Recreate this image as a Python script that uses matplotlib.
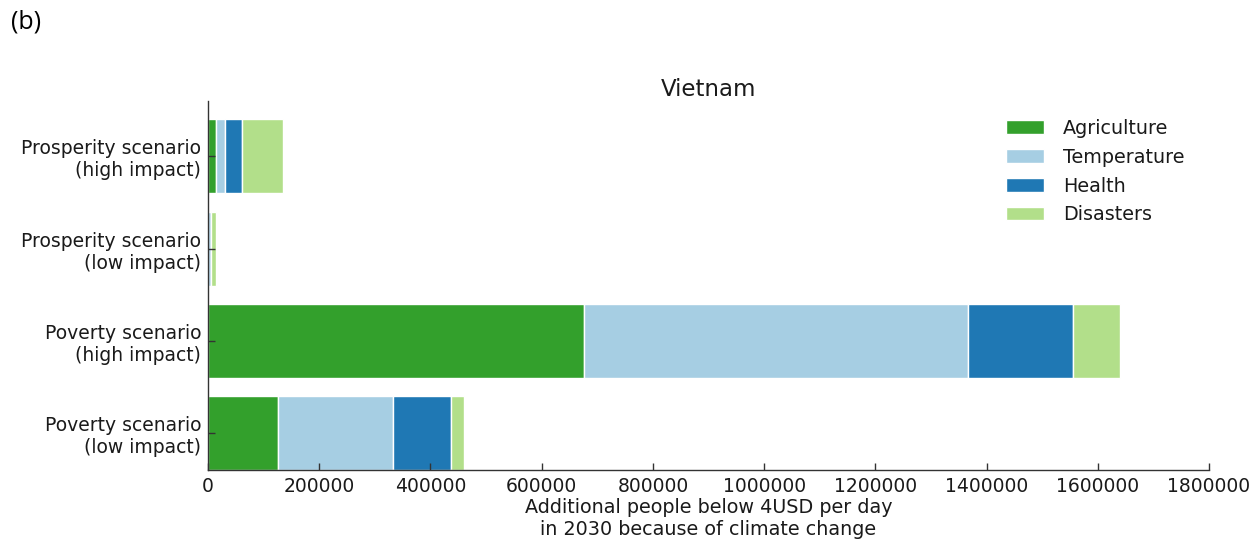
import matplotlib
matplotlib.use("Agg")
import matplotlib.pyplot as plt
import numpy as np

# Scenarios, listed bottom to top
scenarios = [
    "Poverty scenario\n(low impact)",
    "Poverty scenario\n(high impact)",
    "Prosperity scenario\n(low impact)",
    "Prosperity scenario\n(high impact)",
]

# Additional people below 4 USD/day in 2030, by channel
agriculture = [126000, 676000, 500, 15000]
temperature = [207000, 691000, 4000, 15000]
health = [104000, 188000, 500, 31000]
disasters = [23000, 85000, 10000, 74000]

series_names = ["Agriculture", "Temperature", "Health", "Disasters"]
series_colors = ["#33a02c", "#a6cee3", "#1f78b4", "#b2df8a"]

xticks = [0, 200000, 400000, 600000, 800000, 1000000, 1200000, 1400000, 1600000, 1800000]

plt.rcParams["font.family"] = ["DejaVu Sans"]

fig = plt.figure(figsize=(12.6, 5.41), dpi=100)
ax = fig.add_axes([0.1651, 0.1312, 0.7944, 0.6821])

y = np.arange(len(scenarios))
left = np.zeros(len(scenarios))
for name, vals, col in zip(series_names, [agriculture, temperature, health, disasters], series_colors):
    vals = np.array(vals, dtype=float)
    ax.barh(y, vals, left=left, height=0.8, color=col, edgecolor="white",
            linewidth=1.0, label=name)
    left += vals

ax.set_xlim(0, 1800000)
ax.set_ylim(-0.4, 3.6)
ax.set_xticks(xticks)
ax.set_xticklabels([str(v) for v in xticks])
ax.set_yticks(y)
ax.set_yticklabels(scenarios, fontsize=13.5)

for s in ["top", "right"]:
    ax.spines[s].set_visible(False)
for s in ["left", "bottom"]:
    ax.spines[s].set_color("#333333")
    ax.spines[s].set_linewidth(1.0)

ax.tick_params(axis="both", direction="in", length=5, width=1, color="#333333",
               labelsize=13.5, labelcolor="#1a1a1a")
ax.tick_params(axis="y", pad=5)
ax.tick_params(axis="x", pad=5)

ax.set_xlabel("Additional people below 4USD per day\nin 2030 because of climate change",
              fontsize=13.8, color="#1a1a1a", labelpad=1.5, linespacing=1.2)
ax.set_title("Vietnam", fontsize=16.5, color="#1a1a1a", pad=1)

leg = fig.legend(loc="upper left", bbox_to_anchor=(0.792, 0.795), frameon=False,
                 fontsize=13.8, handlelength=2.0, handleheight=0.7,
                 handletextpad=1.0, labelspacing=0.52, borderaxespad=0)
for t in leg.get_texts():
    t.set_color("#1a1a1a")

fig.text(0.009, 0.96, "(b)", fontsize=18, family=["Open Sans", "DejaVu Sans"],
         ha="left", va="center", color="black")

fig.savefig("out.png", dpi=100)
